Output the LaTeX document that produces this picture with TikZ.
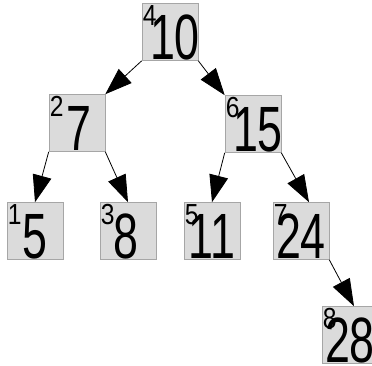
\documentclass[tikz,border=0pt]{standalone}
\usepackage{fontspec}
\setmainfont{Liberation Sans}
\usetikzlibrary{arrows.meta}
\tikzset{
  box/.style={rectangle, fill=gray!28, draw=gray!70, line width=0.6pt, minimum width=56pt, minimum height=57pt, inner sep=0pt},
  idx/.style={inner sep=0pt, font=\fontsize{29}{29}\selectfont},
  big/.style={inner sep=0pt, font=\fontsize{64}{64}\selectfont},
  link/.style={line width=0.8pt, -{Triangle[length=27pt,width=19pt]}}
}
\newcommand\treenode[5]{%
  \node[box] (#1) at (#2) {};
  \node[idx, anchor=north west] (#1i) at ([xshift=1pt,yshift=-2pt]#1.north west) {\scalebox{0.85}[1]{#3}};
  \node[big, anchor=base] (#1v) at ([xshift=#5,yshift=1pt]#1.south) {\scalebox{0.7}[1]{#4}};
}
\begin{document}
\begin{tikzpicture}[x=1pt,y=1pt]
\useasboundingbox (0,0) rectangle (372,-365);
\treenode{nA}{170,-32}{4}{10}{5pt}
\treenode{nB}{77,-123}{2}{7}{2pt}
\treenode{nC}{253,-124}{6}{15}{5pt}
\treenode{nD}{35,-231}{1}{5}{0pt}
\treenode{nE}{128,-231}{3}{8}{-2pt}
\treenode{nF}{212,-231}{5}{11}{0pt}
\treenode{nG}{301,-231}{7}{24}{0pt}
\treenode{nH}{350,-335}{8}{28}{0pt}
\draw[link] (nA.south west) -- (nB.north east);
\draw[link] (nA.south east) -- (nC.north west);
\draw[link] (nB.south west) -- (nD.north);
\draw[link] (nB.south east) -- (nE.north);
\draw[link] (nC.south west) -- (nF.north);
\draw[link] (nC.south east) -- ([xshift=8pt]nG.north);
\draw[link] (nG.south east) -- ([xshift=4pt]nH.north);
\end{tikzpicture}
\end{document}
